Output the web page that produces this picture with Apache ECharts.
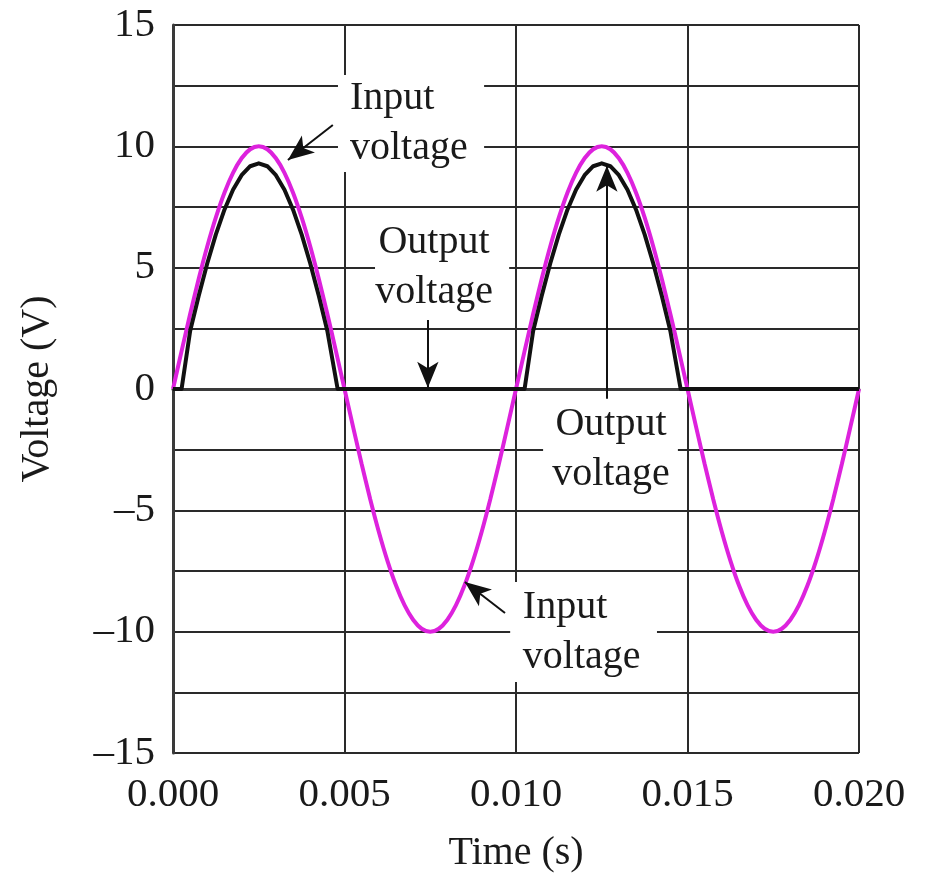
<!DOCTYPE html>
<html>
<head>
<meta charset="utf-8">
<script src="https://cdn.jsdelivr.net/npm/echarts@6/dist/echarts.min.js"></script>
<style>
  html, body { margin: 0; padding: 0; background: #fff; }
  #chart { width: 926px; height: 875px; }
</style>
</head>
<body>
<div id="chart"></div>
<script>
// input voltage, read every 0.00025 s
const inputTime = [
  0, 0.00025, 0.0005, 0.00075, 0.001, 0.00125, 0.0015, 0.00175, 0.002, 0.00225,
  0.0025, 0.00275, 0.003, 0.00325, 0.0035, 0.00375, 0.004, 0.00425, 0.0045, 0.00475,
  0.005, 0.00525, 0.0055, 0.00575, 0.006, 0.00625, 0.0065, 0.00675, 0.007, 0.00725,
  0.0075, 0.00775, 0.008, 0.00825, 0.0085, 0.00875, 0.009, 0.00925, 0.0095, 0.00975,
  0.01, 0.01025, 0.0105, 0.01075, 0.011, 0.01125, 0.0115, 0.01175, 0.012, 0.01225,
  0.0125, 0.01275, 0.013, 0.01325, 0.0135, 0.01375, 0.014, 0.01425, 0.0145, 0.01475,
  0.015, 0.01525, 0.0155, 0.01575, 0.016, 0.01625, 0.0165, 0.01675, 0.017, 0.01725,
  0.0175, 0.01775, 0.018, 0.01825, 0.0185, 0.01875, 0.019, 0.01925, 0.0195, 0.01975,
  0.02
]
const inputVolt = [
  0, 1.56, 3.09, 4.54, 5.88, 7.07, 8.09, 8.91, 9.51, 9.88,
  10, 9.88, 9.51, 8.91, 8.09, 7.07, 5.88, 4.54, 3.09, 1.56,
  0, -1.56, -3.09, -4.54, -5.88, -7.07, -8.09, -8.91, -9.51, -9.88,
  -10, -9.88, -9.51, -8.91, -8.09, -7.07, -5.88, -4.54, -3.09, -1.56,
  0, 1.56, 3.09, 4.54, 5.88, 7.07, 8.09, 8.91, 9.51, 9.88,
  10, 9.88, 9.51, 8.91, 8.09, 7.07, 5.88, 4.54, 3.09, 1.56,
  0, -1.56, -3.09, -4.54, -5.88, -7.07, -8.09, -8.91, -9.51, -9.88,
  -10, -9.88, -9.51, -8.91, -8.09, -7.07, -5.88, -4.54, -3.09, -1.56,
  0
]

// output voltage (half-wave, ~0.7 V below the input)
const outputTime = [
  0, 0.00025, 0.0005, 0.00075, 0.001, 0.00125, 0.0015, 0.00175, 0.002, 0.00225,
  0.0025, 0.00275, 0.003, 0.00325, 0.0035, 0.00375, 0.004, 0.00425, 0.0045, 0.0048,
  0.01025, 0.0105, 0.01075, 0.011, 0.01125, 0.0115, 0.01175, 0.012, 0.01225,
  0.0125, 0.01275, 0.013, 0.01325, 0.0135, 0.01375, 0.014, 0.01425, 0.0145, 0.0148,
  0.02
]
const outputVolt = [
  0, 0, 2.39, 3.84, 5.18, 6.37, 7.39, 8.21, 8.81, 9.18,
  9.3, 9.18, 8.81, 8.21, 7.39, 6.37, 5.18, 3.84, 2.39, 0,
  0, 2.39, 3.84, 5.18, 6.37, 7.39, 8.21, 8.81, 9.18,
  9.3, 9.18, 8.81, 8.21, 7.39, 6.37, 5.18, 3.84, 2.39, 0,
  0
]

// annotations: white box corners and text anchor, in data units
const notes = [
  { text: 'Input\nvoltage', box: [0.00481, 12.94, 0.00907, 8.94], at: [0.00516, 13.0], align: 'left' },
  { text: 'Output\nvoltage', box: [0.00589, 7.17, 0.0098, 2.84], at: [0.00761, 7.05], align: 'center' },
  { text: 'Output\nvoltage', box: [0.01079, -0.45, 0.01472, -4.57], at: [0.01277, -0.45], align: 'center' },
  { text: 'Input\nvoltage', box: [0.00983, -7.95, 0.01411, -12.07], at: [0.0102, -7.99], align: 'left' }
]
const arrows = [
  [[0.00466, 10.88], [0.00335, 9.44]],
  [[0.00743, 2.84], [0.00743, 0.05]],
  [[0.01265, -0.4], [0.01265, 9.2]],
  [[0.00968, -9.23], [0.00851, -7.95]]
]

const FONT = 'Liberation Serif'
const chart = echarts.init(document.getElementById('chart'))

chart.setOption({
  animation: false,
  backgroundColor: '#fff',
  grid: { left: 173, right: 67, top: 25, bottom: 122, outerBoundsMode: 'none' },
  xAxis: {
    type: 'value',
    min: 0,
    max: 0.02,
    interval: 0.005,
    name: 'Time (s)',
    nameLocation: 'middle',
    nameGap: 80,
    nameTextStyle: { fontFamily: FONT, fontSize: 40, color: '#1a1a1a' },
    axisLine: { lineStyle: { color: '#3a3a3a', width: 3 } },
    axisTick: { show: false },
    axisLabel: {
      margin: 22,
      fontFamily: FONT,
      fontSize: 41,
      color: '#1a1a1a',
      formatter: v => v.toFixed(3)
    },
    splitLine: { lineStyle: { color: '#2a2a2a', width: 2 } }
  },
  yAxis: {
    type: 'value',
    min: -15,
    max: 15,
    interval: 2.5,
    name: 'Voltage (V)',
    nameLocation: 'middle',
    nameGap: 116,
    nameTextStyle: { fontFamily: FONT, fontSize: 40, color: '#1a1a1a' },
    axisLine: { lineStyle: { color: '#3a3a3a', width: 3 } },
    axisTick: { show: false },
    axisLabel: {
      margin: 18,
      fontFamily: FONT,
      fontSize: 41,
      color: '#1a1a1a',
      formatter: v => (v % 5 !== 0 ? '' : v < 0 ? '\u2013' + (-v) : String(v))
    },
    splitLine: { lineStyle: { color: '#2a2a2a', width: 2 } }
  },
  series: [
    {
      name: 'Input voltage',
      type: 'line',
      data: inputTime.map((t, i) => [t, inputVolt[i]]),
      smooth: 0.3,
      showSymbol: false,
      lineStyle: { color: '#dd22dd', width: 4 },
      z: 3
    },
    {
      name: 'Output voltage',
      type: 'line',
      data: outputTime.map((t, i) => [t, outputVolt[i]]),
      showSymbol: false,
      lineStyle: { color: '#111', width: 4, join: 'round' },
      z: 4,
      markLine: {
        silent: true,
        symbol: ['none', 'arrow'],
        symbolSize: [16, 26],
        label: { show: false },
        lineStyle: { color: '#111', width: 2, type: 'solid' },
        emphasis: { disabled: true },
        data: arrows.map(a => [{ coord: a[0] }, { coord: a[1] }])
      }
    }
  ]
})

// white label boxes over the grid
const graphics = []
notes.forEach(n => {
  const p0 = chart.convertToPixel({ gridIndex: 0 }, [n.box[0], n.box[1]])
  const p1 = chart.convertToPixel({ gridIndex: 0 }, [n.box[2], n.box[3]])
  const pt = chart.convertToPixel({ gridIndex: 0 }, n.at)
  graphics.push({
    type: 'rect',
    z: 1,
    shape: { x: p0[0], y: p0[1], width: p1[0] - p0[0], height: p1[1] - p0[1] },
    style: { fill: '#fff' }
  })
  graphics.push({
    type: 'text',
    z: 1,
    x: pt[0],
    y: pt[1],
    style: {
      text: n.text,
      font: '40px "' + FONT + '"',
      fill: '#1a1a1a',
      align: n.align,
      verticalAlign: 'top',
      lineHeight: 50
    }
  })
})
chart.setOption({ graphic: graphics })
</script>
</body>
</html>
